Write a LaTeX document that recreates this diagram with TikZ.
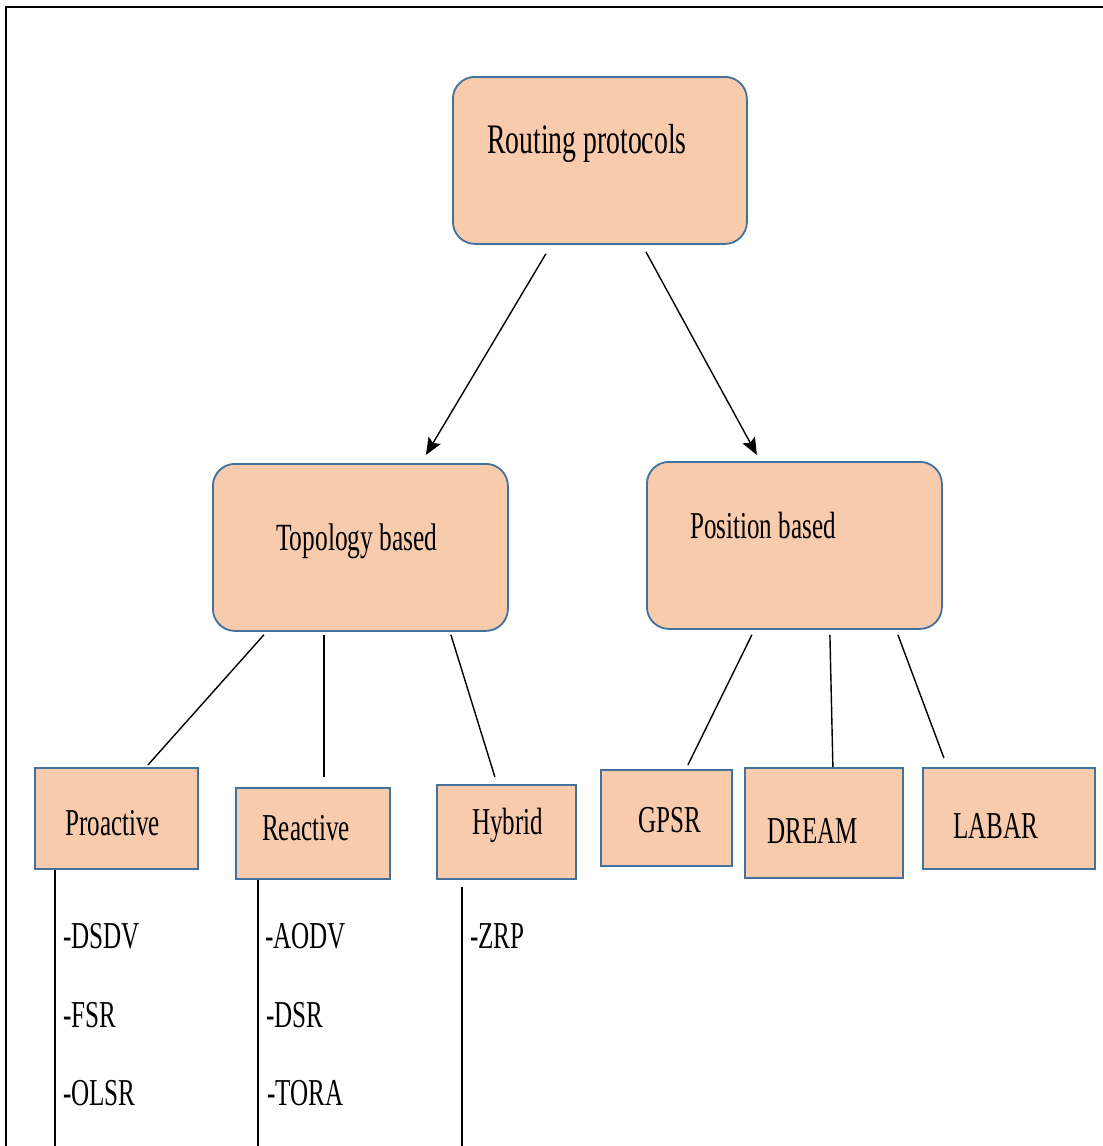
\documentclass[tikz,border=0pt]{standalone}
\usepackage{fontspec}
\setmainfont{Liberation Serif}[FakeStretch=0.66]
\usetikzlibrary{arrows.meta}
\definecolor{boxfill}{HTML}{F8CBAD}
\definecolor{boxline}{HTML}{41719C}
\tikzset{
  box/.style={draw=boxline, fill=boxfill, line width=1.8pt, inner sep=0pt, anchor=north west},
  roundbox/.style={box, rounded corners=22pt},
  lbl/.style={anchor=base west, inner sep=0pt, font=\fontsize{38}{40}\selectfont},
  conn/.style={line width=1.4pt, black},
  arr/.style={conn, -{Stealth[length=17pt, width=14pt, inset=3pt]}},
}
\begin{document}
\begin{tikzpicture}[x=1pt, y=-1pt]
\useasboundingbox (0,0) rectangle (1103,1146);
% outer frame (open on the right and bottom)
\coordinate (fbl) at (6,1146);
\coordinate (ftl) at (6,7);
\coordinate (ftr) at (1103,7);
\draw[line width=2pt] (fbl) -- (ftl) -- (ftr);

% boxes
\node[roundbox, minimum width=294pt, minimum height=167pt] (rp) at (452,76) {};
\node[roundbox, minimum width=295pt, minimum height=167pt] (tb) at (212,463) {};
\node[roundbox, minimum width=295pt, minimum height=167pt] (pb) at (646,461) {};
\node[box, minimum width=163pt, minimum height=101pt] (pro) at (34,767) {};
\node[box, minimum width=154pt, minimum height=91pt] (rea) at (235,787) {};
\node[box, minimum width=139pt, minimum height=94pt] (hyb) at (436,784) {};
\node[box, minimum width=131pt, minimum height=96pt] (gpsr) at (600,769) {};
\node[box, minimum width=158pt, minimum height=110pt] (dream) at (744,767) {};
\node[box, minimum width=172pt, minimum height=101pt] (labar) at (922,767) {};

% box labels
\node[lbl, font=\fontsize{42}{44}\selectfont] (trp) at (487,153) {Routing protocols};
\node[lbl, font=\fontsize{38.5}{40}\selectfont] (ttb) at (276,550) {Topology based};
\node[lbl, font=\fontsize{38}{40}\selectfont] (tpb) at (690,538) {Position based};
\node[lbl] (tpro) at (65,835) {Proactive};
\node[lbl] (trea) at (262,840) {Reactive};
\node[lbl] (thyb) at (472,834) {Hybrid};
\node[lbl] (tgpsr) at (638,832) {GPSR};
\node[lbl] (tdream) at (767,843) {DREAM};
\node[lbl] (tlabar) at (953,838) {LABAR};

% protocol lists
\node[lbl] (dsdv) at (63,948) {-DSDV};
\node[lbl] (fsr) at (63,1027) {-FSR};
\node[lbl] (olsr) at (63,1105) {-OLSR};
\node[lbl] (aodv) at (265,948) {-AODV};
\node[lbl] (dsr) at (266,1027) {-DSR};
\node[lbl] (tora) at (267,1105) {-TORA};
\node[lbl] (zrp) at (470,948) {-ZRP};

% arrows from the root
\draw[arr] ([xshift=-54pt, yshift=-9pt]rp.south) -- ([xshift=65.5pt, yshift=8pt]tb.north);
\draw[arr] ([xshift=46pt, yshift=-7pt]rp.south) -- ([xshift=-37.5pt, yshift=6pt]pb.north);

% topology based branches
\draw[conn] ([xshift=-96.5pt, yshift=-3pt]tb.south) -- ([xshift=31.5pt, yshift=2pt]pro.north);
\draw[conn] ([xshift=-36.5pt, yshift=-3pt]tb.south) -- ([xshift=11pt, yshift=10pt]rea.north);
\draw[conn] ([xshift=90.5pt, yshift=-3pt]tb.south) -- ([xshift=-11.5pt, yshift=7pt]hyb.north);

% position based branches
\draw[conn] ([xshift=-42.5pt, yshift=-5pt]pb.south) -- ([xshift=21.5pt, yshift=4pt]gpsr.north);
\draw[conn] ([xshift=35.5pt, yshift=-5pt]pb.south) -- ([xshift=9pt]dream.north);
\draw[conn] ([xshift=103.5pt, yshift=-5pt]pb.south) -- ([xshift=-65pt, yshift=9pt]labar.north);

% vertical list rules
\coordinate (endpro) at (55,1146);
\coordinate (endrea) at (258,1146);
\coordinate (endhyb) at (462,1146);
\draw[conn] ([xshift=21pt]pro.south west) -- (endpro);
\draw[conn] ([xshift=23pt]rea.south west) -- (endrea);
\draw[conn] ([xshift=26pt, yshift=-7pt]hyb.south west) -- (endhyb);
\end{tikzpicture}
\end{document}
